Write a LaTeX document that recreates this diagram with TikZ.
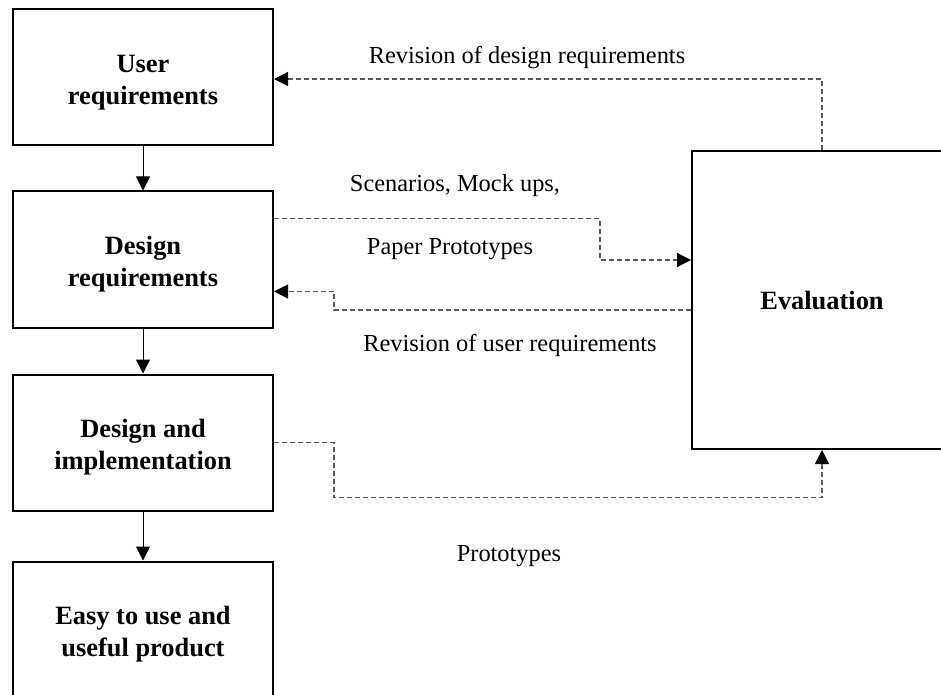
\documentclass[tikz,border=0pt]{standalone}
\usepackage{fontspec}
\setmainfont{Liberation Serif}
\usetikzlibrary{positioning,arrows.meta}
\definecolor{frame}{HTML}{000000}
\definecolor{dashline}{HTML}{5A5A5A}
\newcommand{\lift}{\rule{0pt}{14pt}}

\begin{document}
\begin{tikzpicture}[x=0.5pt,y=-0.5pt, >={Triangle[length=7pt,width=7pt]},
  stage/.style={draw=frame,line width=1pt,minimum width=130pt,minimum height=68pt,align=center,font=\fontsize{13.2}{16}\selectfont\bfseries},
  lbl/.style={font=\fontsize{12.2}{14}\selectfont,inner sep=0pt},
  flow/.style={->,line width=0.5pt},
  backline/.style={-{Triangle[length=7pt,width=7pt,color=black]},dashline,line width=0.6pt,dash pattern=on 2.5pt off 1.5pt}]
 \useasboundingbox (0,0) rectangle (941,695);
 \node[stage] (user) at (143,77.5) {\lift User\\requirements};
 \node[stage,below=22pt of user] (design) {\lift Design\\requirements};
 \node[stage,below=22.5pt of design] (impl) {\lift Design and\\implementation};
 \node[stage,below=24.5pt of impl] (product) {\lift Easy to use and\\useful product};
 \node[stage,minimum height=149pt,text depth=0pt] (eval) at (822,300) {Evaluation};
 \node[lbl] (revdesign) at (527,58) {Revision of design requirements};
 \node[lbl] (scen) at (455,186) {Scenarios, Mock ups,};
 \node[lbl] (paper) at (450,249) {Paper Prototypes};
 \node[lbl] (revuser) at (510,346) {Revision of user requirements};
 \node[lbl] (proto) at (509,556) {Prototypes};
 \draw[flow] (user) -- (design);
 \draw[flow] (design) -- (impl);
 \draw[flow] (impl) -- (product);
 \draw[backline] (eval.north) |- ([yshift=-0.75pt]user.east);
 \draw[backline] ([yshift=20.5pt]design.east) -| ([xshift=-45.5pt,yshift=20pt]eval.west) -- ([yshift=20pt]eval.west);
 \draw[backline] ([yshift=-5pt]eval.west) -| ([xshift=30pt,yshift=-16pt]design.east) -- ([yshift=-16pt]design.east);
 \draw[backline] (impl.east) -| ([xshift=30pt,yshift=-27.5pt]impl.east) -| (eval.south);
\end{tikzpicture}
\end{document}
